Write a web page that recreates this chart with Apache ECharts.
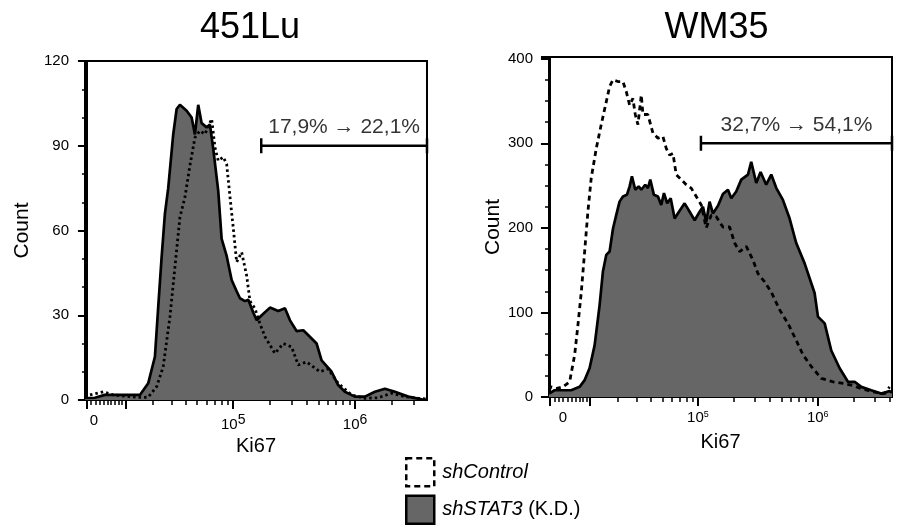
<!DOCTYPE html>
<html lang="en">
<head>
<meta charset="UTF-8">
<title>Ki67 histograms</title>
<script src="https://cdn.jsdelivr.net/npm/echarts@6/dist/echarts.min.js"></script>
<style>
  html, body { margin: 0; padding: 0; background: #fff; }
  #chart { width: 899px; height: 525px; }
</style>
</head>
<body>
<div id="chart"></div>
<script>
// x values are in biexponential display units (decades from 0), y values are cell counts
const panelTitles = ['451Lu', 'WM35'];
const gateTexts = ['17,9% \u2192 22,1%', '32,7% \u2192 54,1%'];
const xTickLabels = ['0', '5', '6'];          // "0", 10^5, 10^6

// 451Lu
const luControl = [
  [-0.016, 1.0], [0.024, 1.8], [0.133, 2.9], [0.215, 1.8], [0.434, 0.9], [0.502, 1.0],
  [0.571, 4.7], [0.625, 11.8], [0.680, 29.4], [0.721, 47], [0.762, 64.7], [0.803, 71.8],
  [0.844, 83], [0.885, 92.9], [0.926, 95.3], [0.967, 94.1], [1.022, 99.5], [1.049, 89.4],
  [1.076, 84.7], [1.117, 86], [1.145, 83.5], [1.172, 72], [1.199, 61], [1.227, 48.8],
  [1.268, 52.3], [1.309, 44], [1.336, 35], [1.377, 32.4], [1.418, 27], [1.459, 22.4],
  [1.541, 16.5], [1.609, 20], [1.677, 18.8], [1.732, 12.4], [1.800, 13.5], [1.909, 10],
  [1.977, 11], [2.059, 5.9], [2.169, 1.8], [2.278, 0.6], [2.387, 0.8], [2.497, 2.4],
  [2.606, 1.2], [2.715, 0.6], [2.787, 0.3]
];
const luKD = [
  [-0.016, 0.7], [0.065, 0.8], [0.147, 1.8], [0.434, 1.8], [0.502, 5.9], [0.557, 15.3],
  [0.584, 32.9], [0.612, 50.6], [0.639, 66], [0.666, 75], [0.707, 94], [0.735, 103],
  [0.762, 104.5], [0.817, 102.4], [0.858, 100], [0.885, 94], [0.912, 104.5], [0.940, 98],
  [0.981, 96.5], [1.008, 97.5], [1.035, 89], [1.076, 74], [1.104, 57], [1.145, 51],
  [1.186, 42.5], [1.227, 38.5], [1.254, 36], [1.295, 35], [1.322, 35.5], [1.363, 31],
  [1.391, 28.2], [1.432, 30], [1.500, 32.7], [1.568, 31.5], [1.623, 32.5], [1.664, 28.2],
  [1.718, 24.4], [1.773, 24.7], [1.827, 22.4], [1.882, 20], [1.923, 14], [2.005, 10],
  [2.059, 5.3], [2.114, 2.9], [2.196, 1.2], [2.278, 1.2], [2.360, 2.9], [2.442, 4.0],
  [2.524, 2.9], [2.633, 1.2], [2.743, 0.2], [2.787, 0]
];

// WM35
const wmControl = [
  [-0.008, 8], [0.010, 12], [0.052, 10], [0.108, 12], [0.164, 18], [0.206, 50],
  [0.233, 85], [0.261, 124], [0.289, 172], [0.316, 219], [0.344, 259], [0.386, 294],
  [0.427, 322], [0.469, 349], [0.497, 367], [0.525, 375], [0.566, 373], [0.608, 373],
  [0.636, 361], [0.664, 345], [0.691, 353], [0.711, 334], [0.733, 322], [0.761, 357],
  [0.775, 334], [0.816, 334], [0.858, 312], [0.900, 306], [0.941, 308], [0.969, 294],
  [0.997, 286], [1.025, 288], [1.052, 263], [1.094, 257], [1.136, 251], [1.177, 247],
  [1.219, 237], [1.261, 227], [1.302, 200], [1.344, 215], [1.386, 213], [1.441, 201],
  [1.497, 201], [1.539, 182], [1.580, 172], [1.636, 178], [1.691, 162], [1.733, 146],
  [1.789, 136], [1.844, 124], [1.914, 103], [1.983, 87], [2.052, 67], [2.108, 50],
  [2.178, 36], [2.261, 22], [2.358, 18], [2.442, 16], [2.511, 14], [2.594, 10],
  [2.692, 6], [2.789, 4], [2.830, 12]
];
const wmKD = [
  [-0.008, 4], [0.039, 8], [0.177, 8], [0.247, 12], [0.289, 20], [0.330, 34],
  [0.372, 61], [0.414, 109], [0.441, 148], [0.469, 168], [0.497, 172], [0.525, 199],
  [0.552, 215], [0.580, 231], [0.608, 237], [0.641, 239], [0.664, 249], [0.683, 261],
  [0.711, 245], [0.739, 249], [0.761, 245], [0.794, 251], [0.816, 247], [0.836, 257],
  [0.866, 239], [0.900, 237], [0.927, 227], [0.950, 241], [0.977, 229], [1.006, 235],
  [1.039, 211], [1.075, 219], [1.122, 229], [1.164, 219], [1.206, 209], [1.247, 219],
  [1.275, 225], [1.302, 207], [1.330, 231], [1.358, 217], [1.400, 226], [1.441, 240],
  [1.483, 245], [1.511, 235], [1.552, 243], [1.594, 257], [1.650, 263], [1.677, 278],
  [1.719, 253], [1.755, 266], [1.802, 251], [1.844, 263], [1.886, 247], [1.941, 233],
  [1.997, 211], [2.052, 182], [2.122, 158], [2.205, 123], [2.233, 95], [2.289, 87],
  [2.344, 55], [2.414, 34], [2.483, 18], [2.539, 18], [2.594, 12], [2.677, 8],
  [2.761, 4], [2.830, 7], [2.850, 5]
];

// gates: [start intensity, count level]
const luGate = [1.7e5, 90];
const wmGate = [1.06e5, 300];

// raw Ki67 intensities for ticks
const majorTicks = [0, 1e4, 1e5, 1e6];
const minorTicks = [1e3, 2e3, 3e3, 4e3, 5e3, 6e3, 7e3, 8e3, 9e3,
  2e4, 3e4, 4e4, 5e4, 6e4, 7e4, 8e4, 9e4,
  2e5, 3e5, 4e5, 5e5, 6e5, 7e5, 8e5, 9e5,
  2e6, 3e6, 4e6];

const panels = [
  { ctrl: luControl, kd: luKD, gate: luGate, width: 12700, xmin: -0.016, xmax: 2.787,
    zeroLabel: 0.057, ymax: 120, yint: 30, ysplit: 3, dash: [2.5, 3], supSize: 14, supPad: 9,
    grid: { left: 85, top: 61, width: 342, height: 339 }, nameGap: 52 },
  { ctrl: wmControl, kd: wmKD, gate: wmGate, width: 11740, xmin: -0.008, xmax: 2.85,
    zeroLabel: 0.108, ymax: 402, yint: 100, ysplit: 4, dash: [5, 4], supSize: 9, supPad: 7,
    grid: { left: 549, top: 57, width: 343, height: 340 }, nameGap: 44 }
];

const biex = (v, w) => Math.asinh(v / w) / Math.LN10;
const font = 'Liberation Sans, Arial, Helvetica, sans-serif';

const grids = [], xAxes = [], yAxes = [], series = [], titles = [];

panels.forEach((p, i) => {
  grids.push(Object.assign({ show: true, borderColor: '#000', borderWidth: 2, backgroundColor: 'transparent' }, p.grid));
  titles.push({
    text: panelTitles[i], left: p.grid.left + p.grid.width / 2 - (i === 0 ? 6 : 4), top: 10, textAlign: 'center', padding: 0,
    textStyle: { fontSize: 36, fontWeight: 'normal', color: '#000', fontFamily: font }
  });
  const inRange = v => { const u = biex(v, p.width); return u >= p.xmin && u <= p.xmax; };
  const labelPos = [p.zeroLabel, biex(1e5, p.width), biex(1e6, p.width)];
  // main x axis with labels and major ticks
  xAxes.push({
    type: 'value', gridIndex: i, position: 'bottom', min: p.xmin, max: p.xmax,
    name: 'Ki67', nameLocation: 'middle', nameGap: 35,
    nameTextStyle: { fontSize: 20, color: '#000', fontFamily: font },
    axisLine: { lineStyle: { color: '#000', width: 2 } },
    axisTick: { length: 9, lineStyle: { color: '#000', width: 2 },
      customValues: majorTicks.filter(inRange).map(v => biex(v, p.width)) },
    axisLabel: {
      customValues: labelPos, margin: 13, color: '#000', fontSize: 15, fontFamily: font,
      formatter: (val) => {
        const k = labelPos.findIndex(x => Math.abs(x - val) < 1e-6);
        return k <= 0 ? xTickLabels[0] : '10{s|' + xTickLabels[k] + '}';
      },
      rich: { s: { fontSize: p.supSize, color: '#000', fontFamily: font, padding: [0, 0, p.supPad, 0] } }
    },
    splitLine: { show: false }
  });
  // overlay x axis carrying the minor ticks
  xAxes.push({
    type: 'value', gridIndex: i, position: 'bottom', min: p.xmin, max: p.xmax,
    axisLine: { show: false },
    axisTick: { length: 5, lineStyle: { color: '#000', width: 1.5 },
      customValues: minorTicks.filter(inRange).map(v => biex(v, p.width)) },
    axisLabel: { show: false },
    splitLine: { show: false }
  });
  yAxes.push({
    type: 'value', gridIndex: i, min: 0, max: p.ymax, interval: p.yint,
    name: 'Count', nameLocation: 'middle', nameGap: p.nameGap,
    nameTextStyle: { fontSize: 21, color: '#000', fontFamily: font },
    axisLine: { show: true, lineStyle: { color: '#000', width: 2 } },
    axisTick: { show: true, length: 9, lineStyle: { color: '#000', width: 2 } },
    minorTick: { show: true, splitNumber: p.ysplit, length: 5, lineStyle: { color: '#000', width: 1.5 } },
    axisLabel: { color: '#000', fontSize: 15, margin: 16, fontFamily: font },
    splitLine: { show: false }
  });

  const xa = i * 2, ya = i;
  series.push({
    name: 'shSTAT3', type: 'line', xAxisIndex: xa, yAxisIndex: ya, data: p.kd,
    showSymbol: false, symbol: 'none', smooth: false, silent: true,
    lineStyle: { color: '#000', width: 2.7 },
    itemStyle: { color: '#666' },
    areaStyle: { color: '#666666', opacity: 1 }
  });
  series.push({
    name: 'shControl', type: 'line', xAxisIndex: xa, yAxisIndex: ya, data: p.ctrl,
    showSymbol: false, symbol: 'none', smooth: false, silent: true,
    lineStyle: { color: '#000', width: 2.8, type: p.dash },
    itemStyle: { color: '#fff' }
  });
  const g0 = biex(p.gate[0], p.width);
  series.push({
    type: 'line', xAxisIndex: xa, yAxisIndex: ya, clip: false, silent: true,
    data: [[g0, p.gate[1]], [p.xmax, p.gate[1]]],
    symbol: 'rect', symbolSize: [2.5, 15], showSymbol: true,
    lineStyle: { color: '#000', width: 2.5 }, itemStyle: { color: '#000' }
  });
  series.push({
    type: 'scatter', xAxisIndex: xa, yAxisIndex: ya, clip: false, silent: true,
    data: [[(g0 + p.xmax) / 2, p.gate[1]]], symbolSize: 0,
    label: { show: true, position: 'top', distance: 8, formatter: gateTexts[i],
      color: '#000', fontSize: 21, fontFamily: font }
  });
});

const chart = echarts.init(document.getElementById('chart'), null, { renderer: 'canvas' });
chart.setOption({
  animation: false,
  backgroundColor: '#fff',
  title: titles,
  grid: grids,
  xAxis: xAxes,
  yAxis: yAxes,
  legend: {
    left: 405, top: 457, height: 90, orient: 'vertical', icon: 'rect',
    itemWidth: 28, itemHeight: 28, itemGap: 7, padding: 0,
    selectedMode: false,
    data: [
      { name: 'shControl', itemStyle: { color: '#fff', borderColor: '#000', borderWidth: 2.5, borderType: [6, 4] } },
      { name: 'shSTAT3', itemStyle: { color: '#666', borderColor: '#000', borderWidth: 2.5 } }
    ],
    formatter: name => name === 'shSTAT3' ? '{i|shSTAT3} (K.D.)' : '{i|shControl}',
    textStyle: { fontSize: 20, color: '#000', fontFamily: font, padding: [0, 0, 0, 3],
      rich: { i: { fontStyle: 'italic', fontSize: 20, color: '#000', fontFamily: font } } }
  },
  series: series
});
</script>
</body>
</html>
